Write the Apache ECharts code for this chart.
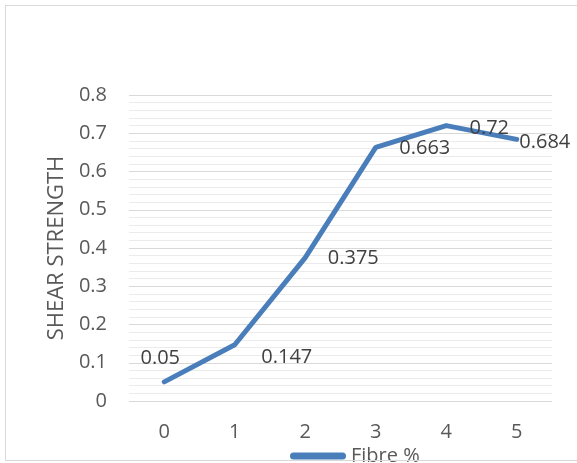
<!DOCTYPE html>
<html><head><meta charset="utf-8">
<script src="https://cdn.jsdelivr.net/npm/echarts@6/dist/echarts.min.js"></script>
<style>html,body{margin:0;padding:0;background:#fff}#c{width:577px;height:463px}
#frame{position:absolute;left:5px;top:5px;width:590px;height:456px;border:1px solid #d9d9d9;box-sizing:border-box;pointer-events:none}</style>
</head><body><div id="c"></div><div id="frame"></div>
<script>
const categories = ['0','1','2','3','4','5'];
const shearStrength = [0.05, 0.147, 0.375, 0.663, 0.72, 0.684];
const labelOffsets = [[-4,-24],[52,13],[48,1],[49,1],[43,3],[28,3]];
const yTicks = {min:0, max:0.8, interval:0.1};

const chart = echarts.init(document.getElementById('c'));
chart.setOption({
  animation:false,
  grid:{left:129, right:25, top:95, bottom:62},
  legend:{
    top:441, left:285, itemWidth:56, itemHeight:7, itemGap:4,
    icon:'path://M3.5,0 L52.5,0 A3.5,3.5 0 0 1 52.5,7 L3.5,7 A3.5,3.5 0 0 1 3.5,0 Z',
    textStyle:{fontFamily:'Open Sans', fontSize:20, color:'#595959', padding:[0,0,0,0]},
    data:['Fibre %']
  },
  xAxis:{
    type:'category', data:categories, boundaryGap:true,
    axisLine:{show:false}, axisTick:{show:false},
    axisLabel:{fontFamily:'Open Sans', fontSize:20, color:'#595959', margin:21}
  },
  yAxis:{
    type:'value', min:yTicks.min, max:yTicks.max, interval:yTicks.interval,
    name:'SHEAR STRENGTH', nameLocation:'middle', nameGap:58, nameRotate:90,
    nameTextStyle:{fontFamily:'Open Sans', fontSize:22, color:'#595959'},
    axisLine:{show:false}, axisTick:{show:false},
    axisLabel:{fontFamily:'Open Sans', fontSize:20, color:'#595959', margin:22,
      formatter:v=>v===0?'0':String(Math.round(v*10)/10)},
    splitLine:{lineStyle:{color:'#d9d9d9', width:1}},
    minorTick:{show:false, splitNumber:5},
    minorSplitLine:{show:true, lineStyle:{color:'#ebebeb', width:1}}
  },
  series:[{
    name:'Fibre %', type:'line',
    data:shearStrength.map((v,i)=>({value:v, label:{offset:labelOffsets[i]}})),
    symbol:'circle', symbolSize:1,
    lineStyle:{color:'#4a7ebb', width:5, cap:'round', join:'round'},
    itemStyle:{color:'#4a7ebb'},
    label:{show:true, position:'inside', fontFamily:'Open Sans', fontSize:20, color:'#404040',
      formatter:p=>String(p.value)}
  }]
});
</script></body></html>
